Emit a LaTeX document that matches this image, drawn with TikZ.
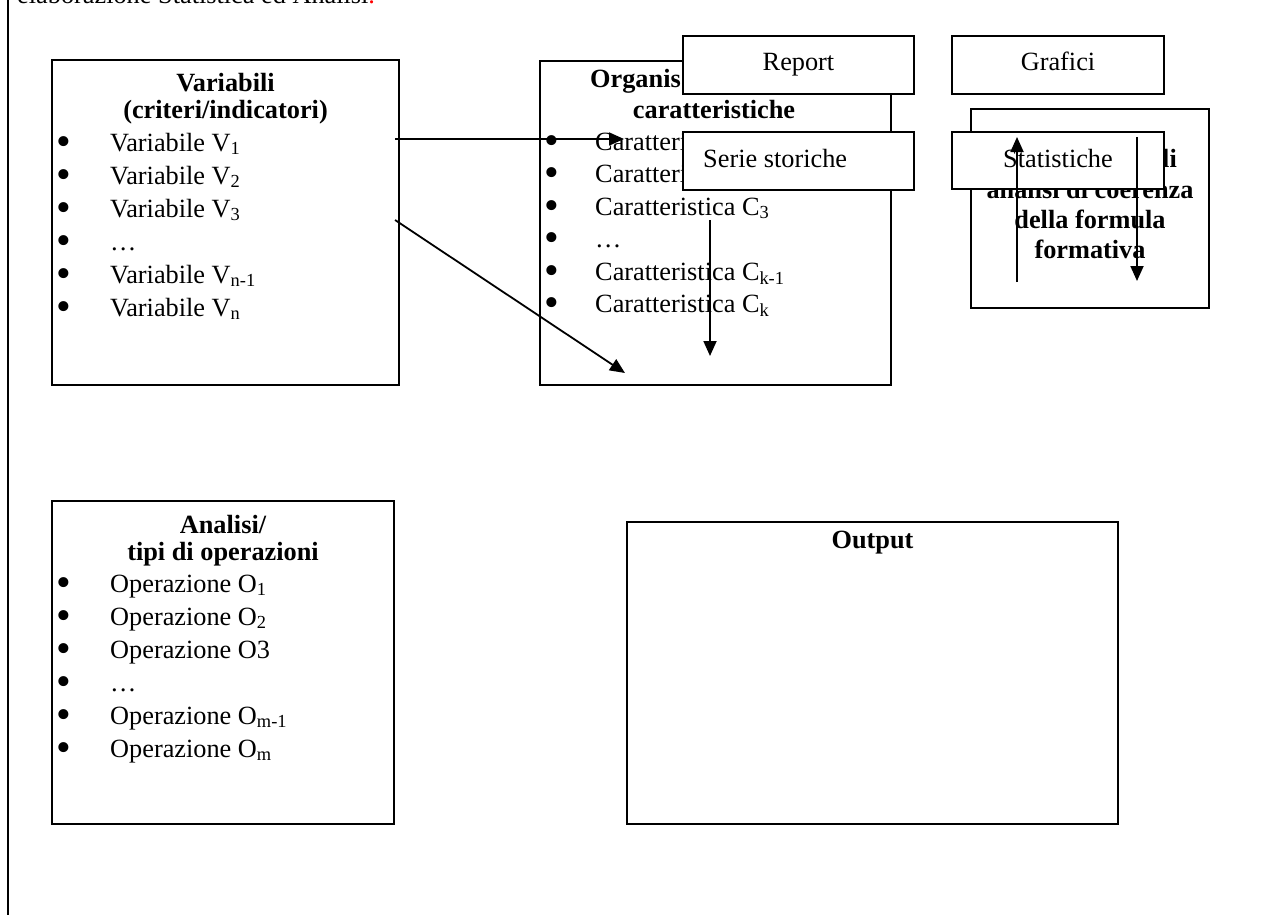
\documentclass[tikz,border=0pt]{standalone}
\usepackage{fontspec}
\setmainfont{Liberation Serif}
\usetikzlibrary{arrows.meta}
\newcommand\bodyfont{\fontsize{26.3}{31}\selectfont}
\newcommand\dotfont{\fontsize{42}{42}\selectfont}
\tikzset{
  frame/.style={draw, line width=2.5pt, fill=white, inner sep=0pt, outer sep=0pt, anchor=north west},
  tab/.style={draw, line width=2pt, fill=white, inner sep=0pt, outer sep=0pt, anchor=north west},
  txt/.style={inner sep=0pt, anchor=base west, font=\bodyfont},
  ttl/.style={inner sep=0pt, anchor=base, font=\bodyfont\bfseries},
  lbl/.style={inner sep=0pt, anchor=base, font=\bodyfont},
  bul/.style={inner sep=0pt, anchor=base, font=\dotfont},
  link/.style={line width=1.8pt, -{Triangle[length=15pt,width=13pt]}},
  rule/.style={line width=2pt},
}
\begin{document}
\begin{tikzpicture}[x=1pt,y=-1pt]
\useasboundingbox (0,0) rectangle (1287,915);
\clip (0,0) rectangle (1287,915);

% running text above the scheme and the page rule on the left
\node[txt] (head) at (17,4) {elaborazione Statistica ed Analisi\textcolor{red}{.}};
\coordinate (ruletop) at (8,0);
\coordinate (rulebot) at (8,915);
\draw[rule] (ruletop) -- (rulebot);

% variables
\node[frame, minimum width=347pt, minimum height=325pt] (var) at (52,60) {};
\node[ttl] (varT1) at (225.5,92) {Variabili};
\node[ttl] (varT2) at (225.5,119) {(criteri/indicatori)};
\foreach \y/\t [count=\i] in {
  151/{Variabile V\textsubscript{1}},
  184/{Variabile V\textsubscript{2}},
  217/{Variabile V\textsubscript{3}},
  250/{…},
  283/{Variabile V\textsubscript{n-1}},
  316/{Variabile V\textsubscript{n}}} {
  \node[bul] (varB\i) at (64,\y+4.4) {\textbullet};
  \node[txt] (varI\i) at (110,\y) {\t};
}

% characteristics
\node[frame, minimum width=351pt, minimum height=324pt] (car) at (540,61) {};
\node[ttl, anchor=base west] (carT1) at (590,88) {Organis};
\node[ttl] (carT2) at (714,118) {caratteristiche};
\foreach \y/\t [count=\i] in {
  150/{Caratteristica C\textsubscript{1}},
  182.5/{Caratteristica C\textsubscript{2}},
  215/{Caratteristica C\textsubscript{3}},
  247.5/{…},
  280/{Caratteristica C\textsubscript{k-1}},
  312.5/{Caratteristica C\textsubscript{k}}} {
  \node[bul] (carB\i) at (552,\y+4.4) {\textbullet};
  \node[txt] (carI\i) at (595,\y) {\t};
}

% links from the variables
\coordinate (hA) at (395,139);
\coordinate (hB) at (624,139);
\coordinate (dA) at (395,220);
\coordinate (dB) at (625,373);
\draw[link] (hA) -- (hB);
\draw[link] (dA) -- (dB);

% output tabs
\node[tab, minimum width=231pt, minimum height=58pt] (rep) at (683,36) {};
\node[lbl] (repT) at (798.5,71) {Report};
\node[tab, minimum width=231pt, minimum height=58pt] (ser) at (683,132) {};
\node[txt] (serT) at (703,167) {Serie storiche};

\coordinate (vA) at (710,220);
\coordinate (vB) at (710,356);
\draw[link] (vA) -- (vB);

% coherence analysis
\node[frame, minimum width=238pt, minimum height=199pt] (coe) at (971,109) {};
\node[ttl, anchor=base east] (coeT1) at (1177,167) {li};
\node[ttl] (coeT2) at (1090,198) {analisi di coerenza};
\node[ttl] (coeT3) at (1090,228) {della formula};
\node[ttl] (coeT4) at (1090,258) {formativa};

\node[tab, minimum width=212pt, minimum height=58pt] (gra) at (952,36) {};
\node[lbl] (graT) at (1058,71) {Grafici};
\node[tab, minimum width=212pt, minimum height=57pt] (sta) at (952,132) {};
\node[lbl] (staT) at (1058,167) {Statistiche};

\coordinate (uA) at (1017,282);
\coordinate (uB) at (1017,137);
\coordinate (wA) at (1137,137);
\coordinate (wB) at (1137,281);
\draw[link] (uA) -- (uB);
\draw[link] (wA) -- (wB);

% operations
\node[frame, minimum width=342pt, minimum height=323pt] (ope) at (52,501) {};
\node[ttl] (opeT1) at (223,533) {Analisi/};
\node[ttl] (opeT2) at (223,560) {tipi di operazioni};
\foreach \y/\t [count=\i] in {
  592/{Operazione O\textsubscript{1}},
  625/{Operazione O\textsubscript{2}},
  658/{Operazione O3},
  691/{…},
  724/{Operazione O\textsubscript{m-1}},
  757/{Operazione O\textsubscript{m}}} {
  \node[bul] (opeB\i) at (64,\y+4.4) {\textbullet};
  \node[txt] (opeI\i) at (110,\y) {\t};
}

% output
\node[frame, minimum width=491pt, minimum height=302pt] (out) at (627,522) {};
\node[ttl] (outT) at (872.5,548) {Output};
\end{tikzpicture}
\end{document}
